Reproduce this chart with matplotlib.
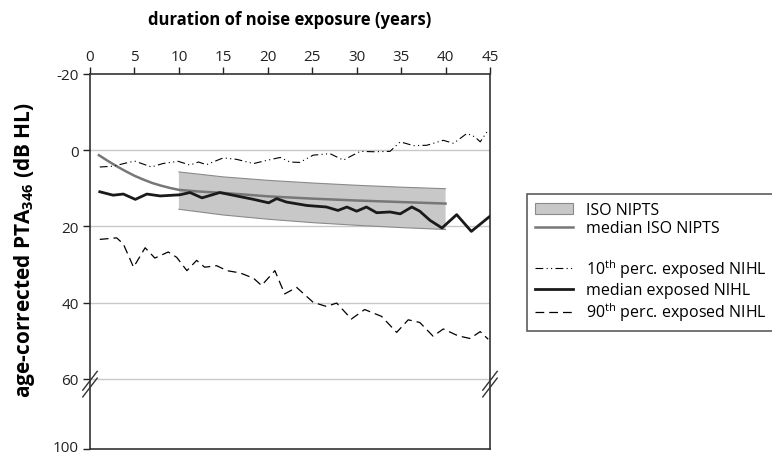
import numpy as np
import matplotlib
matplotlib.use('Agg')
import matplotlib.pyplot as plt
import matplotlib.transforms as mtransforms
from matplotlib.patches import Patch
from matplotlib.lines import Line2D

plt.rcParams['font.family'] = 'Open Sans'
plt.rcParams['mathtext.fontset'] = 'custom'
plt.rcParams['mathtext.rm'] = 'Open Sans'
plt.rcParams['mathtext.bf'] = 'Open Sans:bold'

# ISO NIPTS band (dB HL) and its median
iso_years = [10, 15, 20, 25, 30, 35, 40]
iso_upper = [5.7, 7.0, 7.9, 8.6, 9.2, 9.7, 10.1]
iso_lower = [15.5, 17.0, 18.1, 19.0, 19.7, 20.3, 20.8]
iso_med_years = [1, 2, 3, 4, 5, 6, 7, 8, 9, 10, 12, 15, 20, 25, 30, 35, 40]
iso_median = [1.3, 2.8, 4.2, 5.5, 6.7, 7.7, 8.6, 9.3, 9.9, 10.4, 10.8, 11.2, 12.1, 12.7, 13.2, 13.6, 14.0]

# 10th percentile exposed NIHL
p10_years = [1.1, 2.6, 4.5, 5.1, 6.9, 8.2, 9.9, 11.25, 12.2, 13.1, 15.0, 16.5, 18.4, 20.0,
             21.4, 22.5, 23.6, 25.1, 27.0, 28.5, 30.4, 31.9, 33.75, 34.9, 36.4, 37.9,
             39.75, 40.9, 42.4, 43.3, 43.9, 44.8]
p10_nihl = [4.4, 4.2, 3.1, 2.9, 4.4, 3.5, 2.9, 3.9, 3.1, 3.8, 2.0, 2.4, 3.5, 2.6,
            1.9, 3.1, 3.2, 1.3, 0.9, 2.6, 0.3, 0.4, 0.3, -2.2, -1.2, -1.3,
            -2.6, -1.8, -4.4, -3.5, -2.2, -5.3]

# median exposed NIHL
med_years = [1.1, 2.6, 3.75, 5.1, 6.4, 7.9, 10.1, 11.25, 12.6, 14.6, 16.5, 18.4, 20.1, 21.0,
             22.1, 24.4, 26.6, 27.9, 28.9, 30.0, 31.1, 32.25, 33.75, 34.9, 36.2, 37.1,
             38.25, 39.6, 41.25, 42.9, 44.9]
med_nihl = [10.9, 11.8, 11.5, 12.9, 11.5, 12.0, 11.7, 11.1, 12.5, 11.1, 12.0, 12.9, 13.8, 12.7,
            13.6, 14.5, 14.9, 15.8, 14.9, 16.0, 14.9, 16.4, 16.2, 16.7, 14.9, 16.0,
            18.4, 20.4, 16.9, 21.3, 17.5]

# 90th percentile exposed NIHL
p90_years = [1.1, 3.0, 3.75, 4.9, 6.2, 7.3, 8.8, 9.75, 10.9, 12.0, 12.9, 14.25, 15.4, 16.9,
             18.4, 19.3, 20.8, 21.9, 23.25, 25.1, 26.6, 27.75, 29.4, 30.9, 32.8, 34.5,
             35.8, 37.1, 38.6, 39.75, 41.4, 42.75, 43.9, 44.8]
p90_nihl = [23.4, 23.0, 24.6, 30.7, 25.6, 28.3, 26.7, 28.1, 31.6, 28.9, 30.7, 30.3, 31.6, 32.2,
            33.6, 35.5, 31.6, 37.7, 36.0, 39.9, 41.0, 40.1, 44.3, 41.8, 43.6, 47.8,
            44.5, 45.2, 48.8, 46.9, 48.7, 49.4, 47.6, 49.6]

x_ticks = list(range(0, 50, 5))
y_ticks = [-20, 0, 20, 40, 60]
y_labels = ['-20', '0', '20', '40', '60']
# axis is broken between 60 and 100; 100 sits 70 px below 60 (~18.4 dB at the upper scale)
y_break_top = 78.4

style_p10 = dict(color='black', linewidth=0.8, linestyle=(0, (7, 3, 1, 3, 1, 3)))
style_med = dict(color='#1a1a1a', linewidth=2.0)
style_p90 = dict(color='black', linewidth=0.9, linestyle=(0, (7, 4)))
style_iso = dict(color='#777777', linewidth=1.8)


def plot():
    fig = plt.figure(figsize=(7.72, 4.56), dpi=100)
    ax = fig.add_axes([90 / 772, 1 - 450 / 456, 400 / 772, 375 / 456])

    for g in [0, 20, 40, 60]:
        ax.axhline(g, color='#c8c8c8', linewidth=1.0, zorder=0)

    ax.fill_between(iso_years, iso_upper, iso_lower, facecolor='#c8c8c8',
                    edgecolor='none', zorder=1)
    ax.plot(iso_years, iso_upper, color='#8a8a8a', linewidth=0.8, zorder=1)
    ax.plot(iso_years, iso_lower, color='#8a8a8a', linewidth=0.8, zorder=1)
    ax.plot(iso_med_years, iso_median, zorder=2, **style_iso)

    ax.plot(p10_years, p10_nihl, zorder=3, **style_p10)
    ax.plot(med_years, med_nihl, zorder=3, **style_med)
    ax.plot(p90_years, p90_nihl, zorder=3, **style_p90)

    ax.set_xlim(0, 45)
    ax.set_ylim(y_break_top, -20)
    ax.xaxis.tick_top()
    ax.xaxis.set_label_position('top')
    ax.set_xticks(x_ticks)
    ax.set_yticks(y_ticks + [y_break_top])
    ax.set_yticklabels(y_labels + ['100'])
    ax.tick_params(axis='both', direction='out', length=5, width=1.0, labelsize=11,
                   colors='#222222')
    ax.tick_params(axis='x', pad=2)
    ax.tick_params(axis='y', pad=3)
    # keep the bottom "100" inside the figure
    last = ax.get_yticklabels()[-1]
    last.set_transform(last.get_transform() +
                       mtransforms.ScaledTranslation(0, 3 / 100, fig.dpi_scale_trans))
    for sp in ax.spines.values():
        sp.set_color('#333333')
        sp.set_linewidth(1.2)

    ax.set_xlabel('duration of noise exposure (years)', fontsize=12,
                  fontweight='bold', labelpad=18)
    fig.text(25 / 772, 1 - 250 / 456, r'age-corrected PTA$_{\mathbf{346}}$ (dB HL)',
             fontsize=15, fontweight='bold', rotation=90, ha='center', va='center')

    # break marks on both vertical spines
    for xa in [0, 1]:
        for dy in [-0.006, 0.012]:
            ax.plot([xa - 0.018, xa + 0.018], [0.17 + dy - 0.025, 0.17 + dy + 0.025],
                    transform=ax.transAxes, color='#333333', linewidth=1.0, clip_on=False)

    handles = [Patch(facecolor='#c8c8c8', edgecolor='#8a8a8a', linewidth=0.8),
               Line2D([], [], **style_iso),
               Line2D([], [], color='none'),
               Line2D([], [], **style_p10),
               Line2D([], [], **style_med),
               Line2D([], [], **style_p90)]
    labels = ['ISO NIPTS', 'median ISO NIPTS', ' ',
              r'10$^{\mathrm{th}}$ perc. exposed NIHL', 'median exposed NIHL',
              r'90$^{\mathrm{th}}$ perc. exposed NIHL']
    leg = fig.legend(handles, labels, loc='upper left', bbox_to_anchor=(527 / 772, 1 - 195 / 456),
                     fontsize=11.5, frameon=True, fancybox=False, handlelength=2.4,
                     labelspacing=0.15, borderpad=0.5, handletextpad=0.8, borderaxespad=0)
    leg.get_frame().set_edgecolor('#333333')
    leg.get_frame().set_linewidth(1.2)
    return fig


def main():
    fig = plot()
    fig.savefig('out.png', dpi=100)


if __name__ == '__main__':
    main()
